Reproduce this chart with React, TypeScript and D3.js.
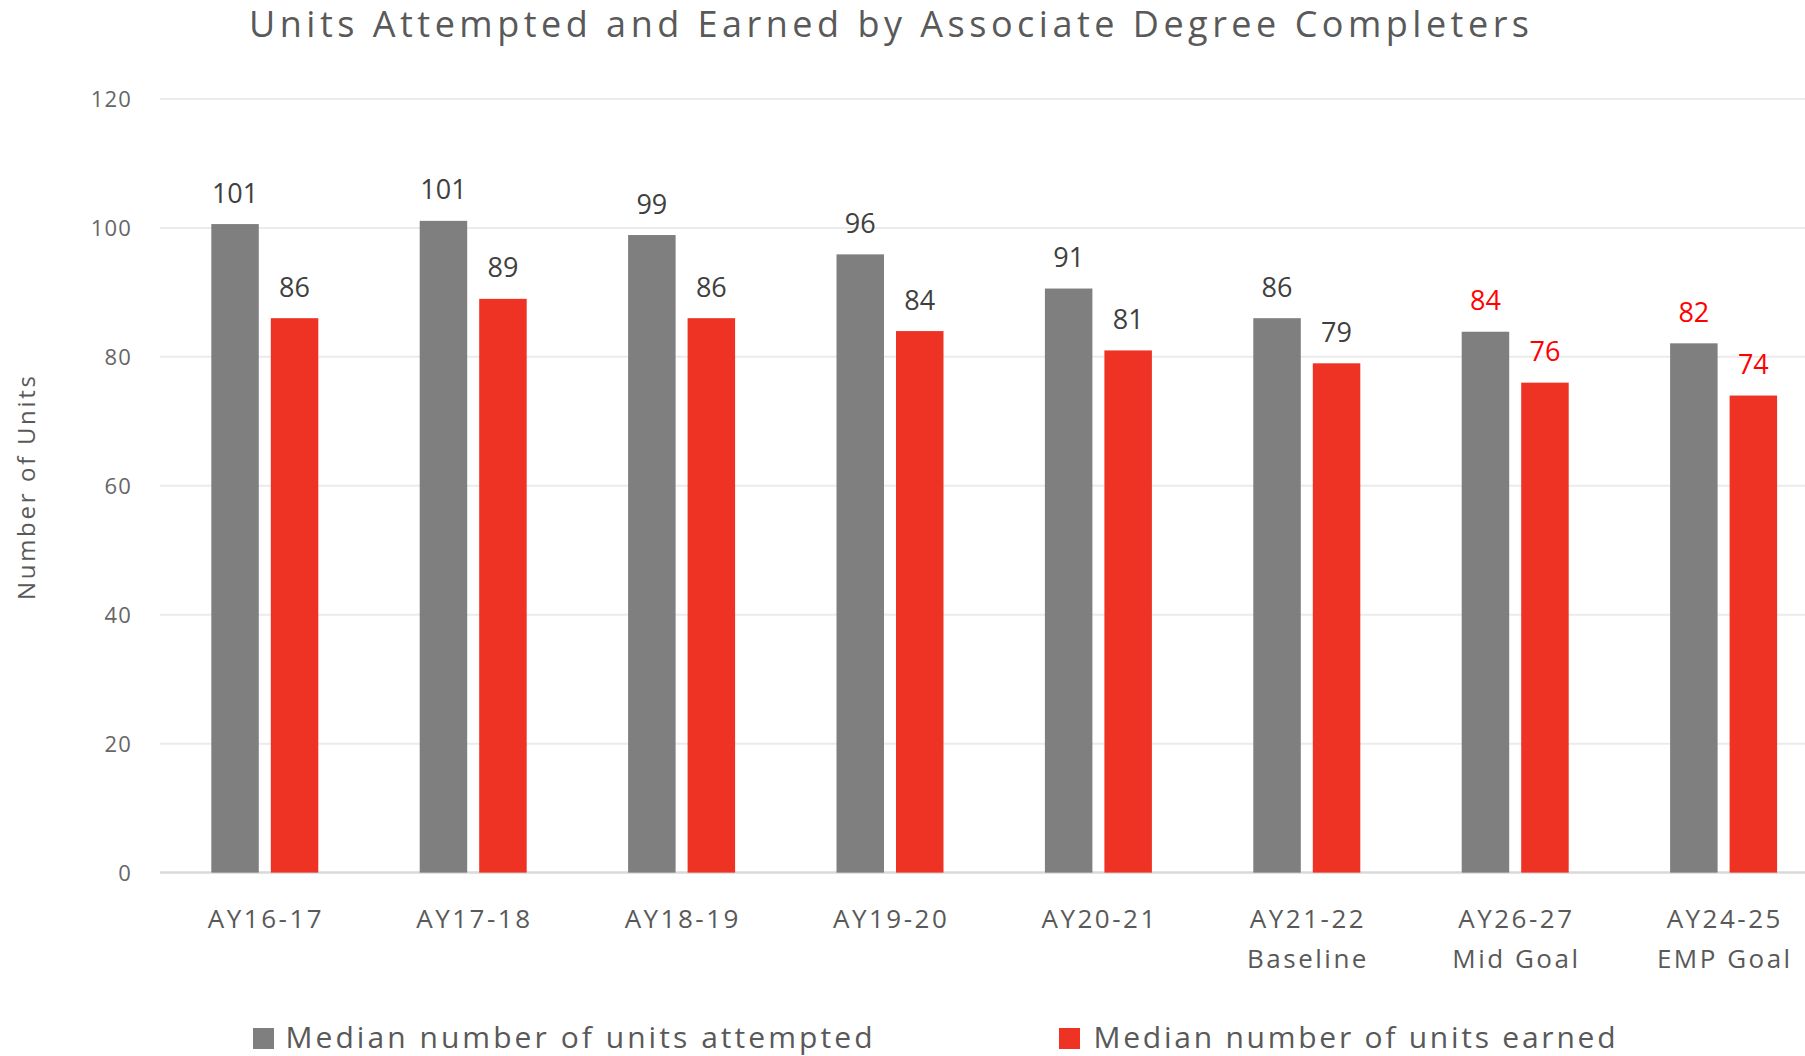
import React from "react";
import * as d3 from "d3";

const categories = ["AY16-17", "AY17-18", "AY18-19", "AY19-20", "AY20-21", "AY21-22", "AY26-27", "AY24-25"];
const subLabels = ["", "", "", "", "", "Baseline", "Mid Goal", "EMP Goal"];
const attempted = [100.6, 101.1, 98.9, 95.9, 90.6, 86, 83.9, 82.1];
const earned = [86, 89, 86, 84, 81, 79, 76, 74];
const goalFlags = [false, false, false, false, false, false, true, true];
const seriesNames = ["Median number of units attempted", "Median number of units earned"];
const seriesColors = ["#7f7f7f", "#ee3224"];
const yTicks = [0, 20, 40, 60, 80, 100, 120];

const W = 1805;
const H = 1056;

export default function App() {
  const x0 = d3.scaleBand<string>().domain(categories).range([160.6, 160.6 + 8 * 208.4]).padding(0);
  const x1 = d3.scaleBand<string>().domain(seriesNames).range([-53.5, 53.5]).paddingInner(12 / 59.5).paddingOuter(0);
  const y = d3.scaleLinear().domain([0, 120]).range([872.6, 99]);
  const series = [attempted, earned];
  const font = "'Open Sans', sans-serif";

  return (
    <svg width={W} height={H} style={{ position: "absolute", left: 0, top: 0, background: "#fff" }} fontFamily={font}>
      <rect x={0} y={0} width={W} height={H} fill="#fff" />
      <text x={249} y={37} fontSize={36} fill="#595959" textLength={1280} lengthAdjust="spacing">
        Units Attempted and Earned by Associate Degree Completers
      </text>
      {yTicks.map((t) => (
        <g key={t}>
          <line x1={160} x2={W} y1={y(t)} y2={y(t)} stroke={t === 0 ? "#d9d9d9" : "#ebebeb"} strokeWidth={t === 0 ? 2.5 : 2} />
          <text x={132} y={y(t)} dy="0.36em" textAnchor="end" fontSize={22} fill="#666" letterSpacing={1.2}>
            {t}
          </text>
        </g>
      ))}
      <text
        transform={`translate(35, 488) rotate(-90)`}
        textAnchor="middle"
        fontSize={24}
        fill="#595959"
        textLength={224}
        lengthAdjust="spacing"
      >
        Number of Units
      </text>
      {categories.map((c, i) => {
        const cx = (x0(c) as number) + x0.bandwidth() / 2;
        return (
          <g key={c}>
            {series.map((vals, s) => {
              const bx = cx + (x1(seriesNames[s]) as number);
              const v = vals[i];
              return (
                <g key={s}>
                  <rect x={bx} y={y(v)} width={x1.bandwidth()} height={y(0) - y(v)} fill={seriesColors[s]} />
                  <text
                    x={bx + x1.bandwidth() / 2}
                    y={y(v) - 21.5}
                    textAnchor="middle"
                    fontSize={27}
                    fill={goalFlags[i] ? "#ff0000" : "#404040"}
                  >
                    {Math.round(v)}
                  </text>
                </g>
              );
            })}
            <text x={cx + 1.2} y={927.7} textAnchor="middle" fontSize={26} fill="#595959" letterSpacing={2.5}>
              {c}
            </text>
            {subLabels[i] && (
              <text x={cx + 1.2} y={967.7} textAnchor="middle" fontSize={26} fill="#595959" letterSpacing={2.5}>
                {subLabels[i]}
              </text>
            )}
          </g>
        );
      })}
      <rect x={253} y={1028} width={21} height={21} fill={seriesColors[0]} />
      <text x={285.5} y={1047.5} fontSize={30} fill="#595959" textLength={587} lengthAdjust="spacing">
        {seriesNames[0]}
      </text>
      <rect x={1059} y={1028} width={21} height={21} fill={seriesColors[1]} />
      <text x={1093.5} y={1047.5} fontSize={30} fill="#595959" textLength={522} lengthAdjust="spacing">
        {seriesNames[1]}
      </text>
    </svg>
  );
}
